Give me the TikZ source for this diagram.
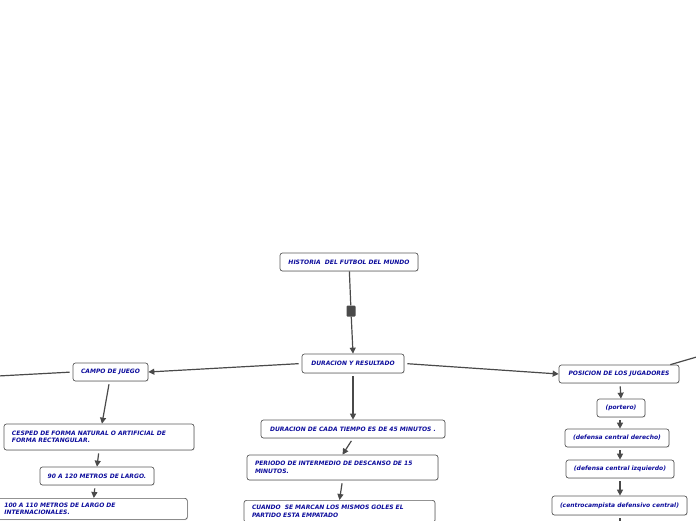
\documentclass[tikz,border=0pt]{standalone}
\usepackage{fontspec}
\setmainfont{DejaVu Sans}
\usepackage{xcolor}
\usepackage{tikz}
\usetikzlibrary{arrows.meta,shadows}
\definecolor{ink}{HTML}{0C0C9C}
\definecolor{rim}{HTML}{5A5A5A}
\definecolor{wire}{HTML}{4A4A4A}

\begin{document}
\begin{tikzpicture}[
          x=1pt, y=-1pt,
          box/.style={draw=rim, line width=0.7pt, fill=white, rounded corners=2.5pt,
                      text=ink, font=\fontsize{6}{7.5}\selectfont\bfseries\itshape,
                      inner xsep=4pt, inner ysep=2pt, align=center,
                      drop shadow={shadow xshift=0.7pt, shadow yshift=-0.7pt, opacity=0.25}},
          para/.style={box, align=left, inner xsep=8pt},
          wire/.style={draw=wire, line width=1.2pt},
          arr/.style={wire, -{Triangle[length=6pt,width=6pt]}, shorten <=3pt, shorten >=0pt}
      ]
        \useasboundingbox (0,0) rectangle (696,520);

        % centre column
        \node[box, minimum width=138, minimum height=18] (hist) at (349,262) {HISTORIA\ \ DEL FUTBOL DEL MUNDO};
        \node[fill=wire, rounded corners=1pt, minimum width=9, minimum height=11, inner sep=0pt] (knob) at (351,311) {};
        \node[box, minimum width=102, minimum height=19] (dur) at (353,363.5) {DURACION Y RESULTADO};
        \node[box, minimum width=184, minimum height=18] (tiempo) at (353,429) {DURACION DE CADA TIEMPO ES DE 45 MINUTOS .};
        \node[para, text width=175, minimum height=25] (periodo) at (342.5,467.5) {PERIODO DE INTERMEDIO DE DESCANSO DE 15\\MINUTOS.};
        \node[para, text width=175, inner ysep=5pt, anchor=north] (cuando) at (339.5,500) {CUANDO\ \ SE MARCAN LOS MISMOS GOLES EL\\PARTIDO ESTA EMPATADO};

        % left column
        \node[box, minimum width=75, minimum height=18] (campo) at (110.5,372) {CAMPO DE JUEGO};
        \node[para, text width=174, minimum height=26] (cesped) at (99,437) {CESPED DE FORMA NATURAL O ARTIFICIAL DE\\FORMA RECTANGULAR.};
        \node[box, minimum width=114, minimum height=18] (m90) at (97,476) {90 A 120 METROS DE LARGO.};
        \node[para, inner xsep=12pt, inner ysep=4.5pt, text width=171, anchor=north west] (m100) at (-8,498) {100 A 110 METROS DE LARGO DE\\INTERNACIONALES.};

        % right column
        \node[box, minimum width=120, minimum height=18] (pos) at (619,374) {POSICION DE LOS JUGADORES};
        \node[box, minimum width=48, minimum height=18] (portero) at (621,408) {(portero)};
        \node[box, minimum width=104, minimum height=18] (dcd) at (617,438) {(defensa central derecho)};
        \node[box, minimum width=108, minimum height=18] (dci) at (620,469) {(defensa central izquierdo)};
        \node[box, minimum width=135, minimum height=19] (ccd) at (619.5,505.5) {(centrocampista defensivo central)};

        \coordinate (offL) at (-2,376);
        \coordinate (offR) at (700,356);
        \coordinate (offB) at (620,530);

        \draw[wire] (hist) -- (knob);
        \draw[arr, shorten <=0pt] (knob) -- (dur.north);
        \draw[arr] (dur.west) -- (campo.east);
        \draw[arr] (dur.east) -- (pos.west);
        \draw[arr] (dur.south) -- (tiempo.north);
        \draw[arr] (tiempo.south) -- (periodo.north);
        \draw[arr] (periodo.south) -- (cuando.north);
        \draw[wire, shorten >=3pt] (offL) -- (campo.west);
        \draw[arr] ([xshift=-1pt]campo.south) -- ([xshift=3pt]cesped.north);
        \draw[arr] (cesped.south) -- (m90.north);
        \draw[arr] ([xshift=-2pt]m90.south) -- ([xshift=4pt]m100.north);
        \draw[wire] ([xshift=-9pt]pos.north east) -- (offR);
        \draw[arr] ([xshift=1pt]pos.south) -- (portero.north);
        \draw[arr] ([xshift=-1pt]portero.south) -- ([xshift=3pt]dcd.north);
        \draw[arr] ([xshift=3pt]dcd.south) -- (dci.north);
        \draw[arr] (dci.south) -- ([xshift=0.5pt]ccd.north);
        \draw[wire, shorten <=3pt] ([xshift=0.5pt]ccd.south) -- (offB);
      \end{tikzpicture}
\end{document}
